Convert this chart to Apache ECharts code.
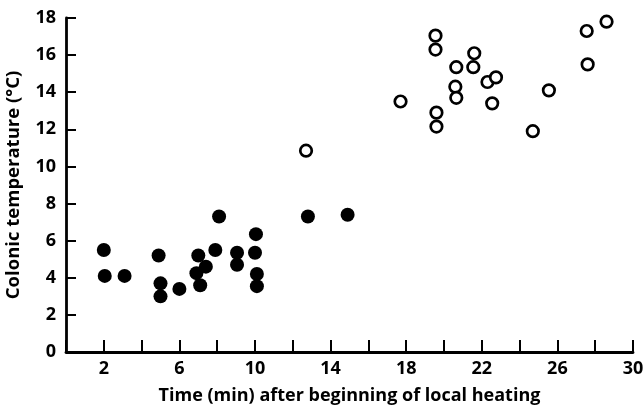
<!DOCTYPE html>
<html>
<head>
<meta charset="utf-8">
<script src="https://cdn.jsdelivr.net/npm/echarts@6/dist/echarts.min.js"></script>
<style>html,body{margin:0;padding:0;background:#fff}#c{width:643px;height:407px}</style>
</head>
<body>
<div id="c"></div>
<script>
var xTicks = [2, 6, 10, 14, 18, 22, 26, 30];
var yTicks = [0, 2, 4, 6, 8, 10, 12, 14, 16, 18];
var filledX = [2.0, 2.05, 3.1, 4.9, 5.0, 5.0, 6.0, 6.9, 7.0, 7.4, 7.1, 7.9, 8.1, 9.05, 9.05, 10.05, 10.0, 10.1, 10.1, 12.8, 14.9];
var filledY = [5.5, 4.1, 4.1, 5.2, 3.7, 3.0, 3.4, 4.25, 5.2, 4.6, 3.6, 5.5, 7.3, 5.35, 4.7, 6.35, 5.35, 4.2, 3.55, 7.3, 7.4];
var openX = [12.7, 17.7, 19.55, 19.55, 19.6, 19.6, 20.65, 20.6, 20.65, 21.6, 21.55, 22.3, 22.75, 22.55, 24.7, 25.55, 27.55, 27.6, 28.6];
var openY = [10.85, 13.5, 17.05, 16.3, 12.9, 12.15, 15.35, 14.3, 13.7, 16.1, 15.35, 14.55, 14.8, 13.4, 11.9, 14.1, 17.3, 15.5, 17.8];

function pairs(xs, ys) { return xs.map(function (x, i) { return [x, ys[i]]; }); }

var font = '"Open Sans"';
var chart = echarts.init(document.getElementById('c'), null, { renderer: 'canvas' });
chart.setOption({
  animation: false,
  backgroundColor: '#fff',
  grid: { left: 66, right: 10, top: 18, bottom: 55, containLabel: false, outerBoundsMode: 'none' },
  xAxis: {
    type: 'value', min: 0, max: 30, interval: 2,
    name: 'Time (min) after beginning of local heating',
    nameLocation: 'middle', nameGap: 35,
    nameTextStyle: { fontFamily: font, fontWeight: 'bold', fontSize: 18, color: '#000' },
    axisLine: { show: true, lineStyle: { color: '#000', width: 2.8 } },
    axisTick: { show: true, inside: true, length: 12, lineStyle: { color: '#000', width: 2 } },
    axisLabel: {
      margin: 8, fontFamily: font, fontWeight: 'bold', fontSize: 18, color: '#000',
      formatter: function (v) { return xTicks.indexOf(v) >= 0 ? String(v) : ''; }
    },
    splitLine: { show: false }
  },
  yAxis: {
    type: 'value', min: 0, max: 18, interval: 2,
    name: 'Colonic temperature (°C)',
    nameLocation: 'middle', nameGap: 43,
    nameTextStyle: { fontFamily: font, fontWeight: 'bold', fontSize: 18.5, color: '#000' },
    axisLine: { show: true, lineStyle: { color: '#000', width: 2.8 } },
    axisTick: { show: true, inside: true, length: 10, lineStyle: { color: '#000', width: 2 } },
    axisLabel: {
      margin: 10, fontFamily: font, fontWeight: 'bold', fontSize: 18, color: '#000',
      formatter: function (v) { return yTicks.indexOf(v) >= 0 ? String(v) : ''; }
    },
    splitLine: { show: false }
  },
  series: [
    {
      type: 'scatter', data: pairs(filledX, filledY), symbol: 'circle', symbolSize: 14,
      itemStyle: { color: '#000', opacity: 1 }
    },
    {
      type: 'scatter', data: pairs(openX, openY), symbol: 'circle', symbolSize: 11.5,
      itemStyle: { color: '#fff', borderColor: '#000', borderWidth: 2.7, opacity: 1 }
    }
  ]
});
</script>
</body>
</html>
